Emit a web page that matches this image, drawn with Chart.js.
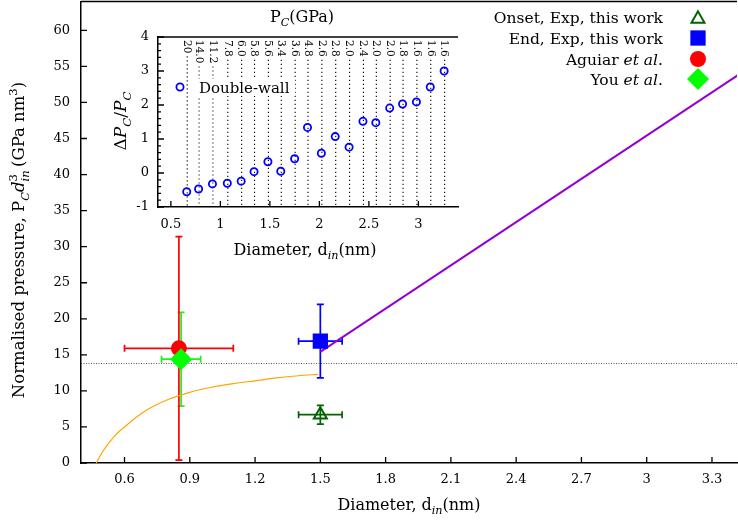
<!DOCTYPE html>
<html>
<head>
<meta charset="utf-8">
<script src="https://cdn.jsdelivr.net/npm/chart.js@4.4.1/dist/chart.umd.min.js"></script>
<style>
  html, body { margin: 0; padding: 0; background: #fff; }
  #wrap { position: relative; width: 738px; height: 521px; }
  #wrap canvas { position: absolute; left: 0; top: 0; }
</style>
</head>
<body>
<div id="wrap">
  <canvas id="main" width="738" height="521"></canvas>
  <canvas id="inset" width="738" height="521"></canvas>
</div>
<script>
// ---- main plot data (P_C * d^3 against inner diameter) ----
const onsetD = [1.5], onsetP = [6.7], onsetDErr = [0.1], onsetPErr = [1.3];
const endD = [1.5], endP = [16.9], endDErr = [0.1], endPErr = [5.1];
const aguiarD = [0.85], aguiarP = [15.9], aguiarDErr = [0.25], aguiarPErr = [15.5];
const youD = [0.86], youP = [14.4], youDErr = [0.09], youPErr = [6.5];

const modelD = [0.47, 0.5, 0.55, 0.6, 0.7, 0.8, 0.9, 1.0, 1.1, 1.2, 1.3, 1.4, 1.49];
const modelP = [0, 1.6, 3.6, 5.0, 7.3, 8.8, 9.8, 10.5, 11.0, 11.4, 11.8, 12.1, 12.3];
const linearD = [1.5, 3.45];
const linearP = [15.4, 54.4];
const refLevel = 13.8;

const mainXTicks = [0.6, 0.9, 1.2, 1.5, 1.8, 2.1, 2.4, 2.7, 3.0, 3.3];
const mainYTicks = [0, 5, 10, 15, 20, 25, 30, 35, 40, 45, 50, 55, 60];
const mainXMin = 0.4, mainXMax = 3.415;

// ---- inset data (double-wall, relative deviation) ----
const insetD = [0.66, 0.78, 0.92, 1.07, 1.21, 1.34, 1.48, 1.61, 1.75, 1.88,
  2.02, 2.16, 2.30, 2.44, 2.57, 2.71, 2.84, 2.98, 3.12, 3.26];
const insetDelta = [-0.55, -0.47, -0.32, -0.30, -0.24, 0.04, 0.33, 0.05, 0.42, 1.34,
  0.58, 1.07, 0.76, 1.52, 1.48, 1.91, 2.03, 2.09, 2.53, 3.0];
const insetPc = ['20', '14.0', '11.2', '7.8', '6.0', '5.8', '5.6', '3.4', '3.6', '4.8',
  '2.6', '2.8', '2.0', '2.4', '2.0', '2.0', '1.8', '1.6', '1.6', '1.6'];
const insetXTicks = [0.5, 1, 1.5, 2, 2.5, 3];
const insetYTicks = [-1, 0, 1, 2, 3, 4];

const FONT = '"DejaVu Serif", serif';
Chart.defaults.color = '#000';
Chart.defaults.font.family = FONT;

const pts = (xs, ys) => xs.map((v, i) => ({ x: v, y: ys[i] }));
const fmt = (v) => String(Math.round(v * 10) / 10);
const noPad = (s) => { s.paddingLeft = 0; s.paddingRight = 0; s.paddingTop = 0; s.paddingBottom = 0; };

// text with sub/superscripts, y is the baseline
function drawRich(ctx, parts, x, y, size, align) {
  const segs = parts.map((p) => {
    const fs = p.sub || p.sup ? size * 0.7 : size;
    const font = (p.it ? 'italic ' : '') + fs + 'px ' + FONT;
    ctx.font = font;
    return Object.assign({}, p, {
      font: font,
      w: ctx.measureText(p.t).width,
      dy: p.sub ? size * 0.28 : p.sup ? -size * 0.4 : 0,
    });
  });
  let cx = 0, prevStart = 0, prevW = 0;
  segs.forEach((s) => {
    if (s.over) {
      s.x = prevStart;
      cx = prevStart + Math.max(prevW, s.w);
    } else {
      s.x = cx;
      prevStart = cx;
      prevW = s.w;
      cx += s.w;
    }
  });
  const x0 = align === 'center' ? x - cx / 2 : align === 'right' ? x - cx : x;
  ctx.textAlign = 'left';
  ctx.textBaseline = 'alphabetic';
  segs.forEach((s) => {
    ctx.font = s.font;
    ctx.fillText(s.t, x0 + s.x, y + s.dy);
  });
  return cx;
}

function marker(ctx, style, r, x, y, fill, stroke, bw) {
  ctx.save();
  ctx.fillStyle = fill;
  ctx.strokeStyle = stroke;
  ctx.lineWidth = bw;
  Chart.helpers.drawPoint(ctx, { pointStyle: style, radius: r, borderWidth: bw, rotation: 0 }, x, y);
  ctx.restore();
}

// inward ticks + top line
const frame = {
  id: 'frame',
  afterDraw(chart, args, opts) {
    const { ctx, chartArea: a, scales } = chart;
    ctx.save();
    ctx.strokeStyle = '#000';
    ctx.lineWidth = 1.3;
    ctx.beginPath();
    scales.x.ticks.forEach((t) => {
      const px = scales.x.getPixelForValue(t.value);
      ctx.moveTo(px, a.bottom);
      ctx.lineTo(px, a.bottom - opts.tick);
    });
    scales.y.ticks.forEach((t) => {
      const py = scales.y.getPixelForValue(t.value);
      ctx.moveTo(a.left, py);
      ctx.lineTo(a.left + opts.tick, py);
    });
    if (opts.minorY) {
      for (let v = scales.y.min; v < scales.y.max - 1e-6; v += opts.minorY) {
        if (Math.abs(v - Math.round(v)) < 1e-6) continue;
        const py = scales.y.getPixelForValue(v);
        ctx.moveTo(a.left, py);
        ctx.lineTo(a.left + opts.tick / 2, py);
      }
    }
    ctx.stroke();
    ctx.lineWidth = 1.5;
    ctx.beginPath();
    ctx.moveTo(a.left, a.top);
    ctx.lineTo(a.right, a.top);
    ctx.stroke();
    ctx.restore();
  },
};

const errorBars = {
  id: 'errorBars',
  beforeDatasetsDraw(chart) {
    const { ctx, scales: { x, y } } = chart;
    chart.data.datasets.forEach((ds) => {
      if (!ds.errX) return;
      ctx.save();
      ctx.strokeStyle = ds.errColor;
      ctx.lineWidth = 1.7;
      ds.data.forEach((p, i) => {
        const px = x.getPixelForValue(p.x), py = y.getPixelForValue(p.y);
        const x0 = x.getPixelForValue(p.x - ds.errX[i]), x1 = x.getPixelForValue(p.x + ds.errX[i]);
        const y0 = y.getPixelForValue(p.y - ds.errY[i]), y1 = y.getPixelForValue(p.y + ds.errY[i]);
        const c = 3.5;
        ctx.beginPath();
        ctx.moveTo(x0, py); ctx.lineTo(x1, py);
        ctx.moveTo(px, y0); ctx.lineTo(px, y1);
        ctx.moveTo(x0, py - c); ctx.lineTo(x0, py + c);
        ctx.moveTo(x1, py - c); ctx.lineTo(x1, py + c);
        ctx.moveTo(px - c, y0); ctx.lineTo(px + c, y0);
        ctx.moveTo(px - c, y1); ctx.lineTo(px + c, y1);
        ctx.stroke();
      });
      ctx.restore();
    });
  },
};

const mainText = {
  id: 'mainText',
  afterDraw(chart) {
    const { ctx, chartArea: a } = chart;
    ctx.save();
    ctx.fillStyle = '#000';
    // x title
    drawRich(ctx, [{ t: 'Diameter, d' }, { t: 'in', sub: 1, it: 1 }, { t: '(nm)' }],
      (a.left + a.right) / 2, 510, 16, 'center');
    // y title
    ctx.translate(24, 240);
    ctx.rotate(-Math.PI / 2);
    drawRich(ctx, [
      { t: 'Normalised pressure, P' }, { t: 'C', sub: 1, it: 1 }, { t: 'd', it: 1 },
      { t: 'in', sub: 1, it: 1 }, { t: '3', sup: 1, over: 1 }, { t: '\u2009(GPa nm' },
      { t: '3', sup: 1 }, { t: ')' },
    ], 0, 0, 16.5, 'center');
    ctx.restore();

    // legend
    const tx = 663, sx = 698, size = 15.5;
    const rows = [
      { y: 17, parts: [{ t: 'Onset, Exp, this work' }], m: ['triangle', 7.5, 'rgba(0,0,0,0)', '#006400', 2] },
      { y: 38, parts: [{ t: 'End, Exp, this work' }], m: ['rect', 10.8, '#0000ff', '#0000ff', 0] },
      { y: 59, parts: [{ t: 'Aguiar ' }, { t: 'et al', it: 1 }, { t: '.' }], m: ['circle', 8, '#ff0000', '#ff0000', 0] },
      { y: 79, parts: [{ t: 'You ' }, { t: 'et al', it: 1 }, { t: '.' }], m: ['rectRot', 11, '#00ff00', '#00ff00', 0] },
    ];
    ctx.save();
    ctx.fillStyle = '#000';
    rows.forEach((r) => {
      drawRich(ctx, r.parts, tx, r.y + 5.5, size, 'right');
      const dy = r.m[0] === 'triangle' ? r.m[1] / 4 : 0;
      marker(ctx, r.m[0], r.m[1], sx, r.y + dy, r.m[2], r.m[3], r.m[4]);
    });
    ctx.restore();
  },
};

new Chart(document.getElementById('main'), {
  type: 'scatter',
  data: {
    datasets: [
      { data: pts(onsetD, onsetP), pointStyle: 'triangle', pointRadius: 7.5, borderWidth: 2,
        borderColor: '#006400', backgroundColor: 'rgba(0,0,0,0)',
        errX: onsetDErr, errY: onsetPErr, errColor: '#006400' },
      { data: pts(endD, endP), pointStyle: 'rect', pointRadius: 10.8, borderWidth: 0,
        borderColor: '#0000ff', backgroundColor: '#0000ff',
        errX: endDErr, errY: endPErr, errColor: '#0000ff' },
      { data: pts(youD, youP), pointStyle: 'rectRot', pointRadius: 11, borderWidth: 0,
        borderColor: '#00ff00', backgroundColor: '#00ff00',
        errX: youDErr, errY: youPErr, errColor: '#22ee22' },
      { data: pts(aguiarD, aguiarP), pointStyle: 'circle', pointRadius: 8, borderWidth: 0,
        borderColor: '#ff0000', backgroundColor: '#ff0000',
        errX: aguiarDErr, errY: aguiarPErr, errColor: '#ff0000' },
      { data: pts(linearD, linearP), showLine: true, pointRadius: 0, borderWidth: 2,
        borderColor: '#9400d3' },
      { data: pts(modelD, modelP), showLine: true, pointRadius: 0, borderWidth: 1.2,
        borderColor: '#ffa500', cubicInterpolationMode: 'monotone' },
      { data: pts([mainXMin, mainXMax], [refLevel, refLevel]), showLine: true, pointRadius: 0,
        borderWidth: 1, borderColor: '#555', borderDash: [1, 1.5] },
    ],
  },
  options: {
    responsive: false,
    animation: false,
    events: [],
    layout: { autoPadding: false, padding: { top: 1.5, right: 1, left: 0, bottom: 0 } },
    plugins: {
      legend: { display: false },
      tooltip: { enabled: false },
      frame: { tick: 6 },
    },
    scales: {
      x: {
        type: 'linear', min: mainXMin, max: mainXMax,
        afterBuildTicks: (s) => { s.ticks = mainXTicks.map((v) => ({ value: v })); },
        afterFit: (s) => { s.height = 58; noPad(s); },
        ticks: { callback: fmt, font: { size: 13 }, padding: 9, maxRotation: 0, autoSkip: false },
        grid: { display: false, drawTicks: false },
        border: { display: true, color: '#000', width: 1.5 },
      },
      y: {
        type: 'linear', min: 0, max: 64,
        afterBuildTicks: (s) => { s.ticks = mainYTicks.map((v) => ({ value: v })); },
        afterFit: (s) => { s.width = 81; noPad(s); },
        ticks: { callback: fmt, font: { size: 13 }, padding: 11, autoSkip: false },
        grid: { display: false, drawTicks: false },
        border: { display: true, color: '#000', width: 1.5 },
      },
    },
  },
  plugins: [errorBars, frame, mainText],
});

const insetDecor = {
  id: 'insetDecor',
  beforeDatasetsDraw(chart) {
    const { ctx, chartArea: a, scales: { x } } = chart;
    ctx.save();
    insetD.forEach((d, i) => {
      const px = x.getPixelForValue(d);
      ctx.save();
      ctx.translate(px, a.top + 3);
      ctx.rotate(Math.PI / 2);
      ctx.font = '10.5px ' + FONT;
      ctx.fillStyle = '#000';
      ctx.textAlign = 'left';
      ctx.textBaseline = 'middle';
      ctx.fillText(insetPc[i], 0, 0);
      const w = ctx.measureText(insetPc[i]).width;
      ctx.restore();
      ctx.strokeStyle = '#000';
      ctx.lineWidth = 1.1;
      ctx.setLineDash([1.2, 2.8]);
      ctx.beginPath();
      ctx.moveTo(px + 0.5, a.top + 3 + w + 3);
      ctx.lineTo(px + 0.5, a.bottom);
      ctx.stroke();
    });
    ctx.restore();
  },
  afterDraw(chart) {
    const { ctx, chartArea: a } = chart;
    ctx.save();
    ctx.fillStyle = '#fff';
    ctx.fillRect(197, 79, 98, 17);
    ctx.fillStyle = '#000';
    drawRich(ctx, [{ t: 'Double-wall' }], 199, 92.5, 15, 'left');
    marker(ctx, 'circle', 3.6, 180, 87, 'rgba(0,0,0,0)', '#0000ff', 1.8);
    // titles
    ctx.fillStyle = '#000';
    drawRich(ctx, [{ t: 'P' }, { t: 'C', sub: 1, it: 1 }, { t: '(GPa)' }], 302, 22, 16, 'center');
    drawRich(ctx, [{ t: 'Diameter, d' }, { t: 'in', sub: 1, it: 1 }, { t: '(nm)' }],
      (a.left + a.right) / 2 - 3, 255, 16, 'center');
    ctx.translate(126, 121);
    ctx.rotate(-Math.PI / 2);
    drawRich(ctx, [{ t: '\u0394' }, { t: 'P', it: 1 }, { t: 'C', sub: 1, it: 1 }, { t: '/' },
      { t: 'P', it: 1 }, { t: 'C', sub: 1, it: 1 }], 0, 0, 17, 'center');
    ctx.restore();
  },
};

new Chart(document.getElementById('inset'), {
  type: 'scatter',
  data: {
    datasets: [
      { data: pts(insetD, insetDelta), pointStyle: 'circle', pointRadius: 3.6, borderWidth: 1.8,
        borderColor: '#0000ff', backgroundColor: 'rgba(0,0,0,0)' },
    ],
  },
  options: {
    responsive: false,
    animation: false,
    events: [],
    layout: { autoPadding: false, padding: { left: 118, right: 280, top: 37, bottom: 284 } },
    plugins: {
      legend: { display: false },
      tooltip: { enabled: false },
      frame: { tick: 6, minorY: 0.2 },
    },
    scales: {
      x: {
        type: 'linear', min: 0.37, max: 3.4,
        afterBuildTicks: (s) => { s.ticks = insetXTicks.map((v) => ({ value: v })); },
        afterFit: (s) => { s.height = 30; noPad(s); },
        ticks: { callback: fmt, font: { size: 13 }, padding: 10, maxRotation: 0, autoSkip: false },
        grid: { display: false, drawTicks: false },
        border: { display: true, color: '#000', width: 1.5 },
      },
      y: {
        type: 'linear', min: -1, max: 4,
        afterBuildTicks: (s) => { s.ticks = insetYTicks.map((v) => ({ value: v })); },
        afterFit: (s) => { s.width = 40; noPad(s); },
        ticks: { callback: fmt, font: { size: 13 }, padding: 9, autoSkip: false },
        grid: { display: false, drawTicks: false },
        border: { display: true, color: '#000', width: 1.5 },
      },
    },
  },
  plugins: [insetDecor, frame],
});
</script>
</body>
</html>
